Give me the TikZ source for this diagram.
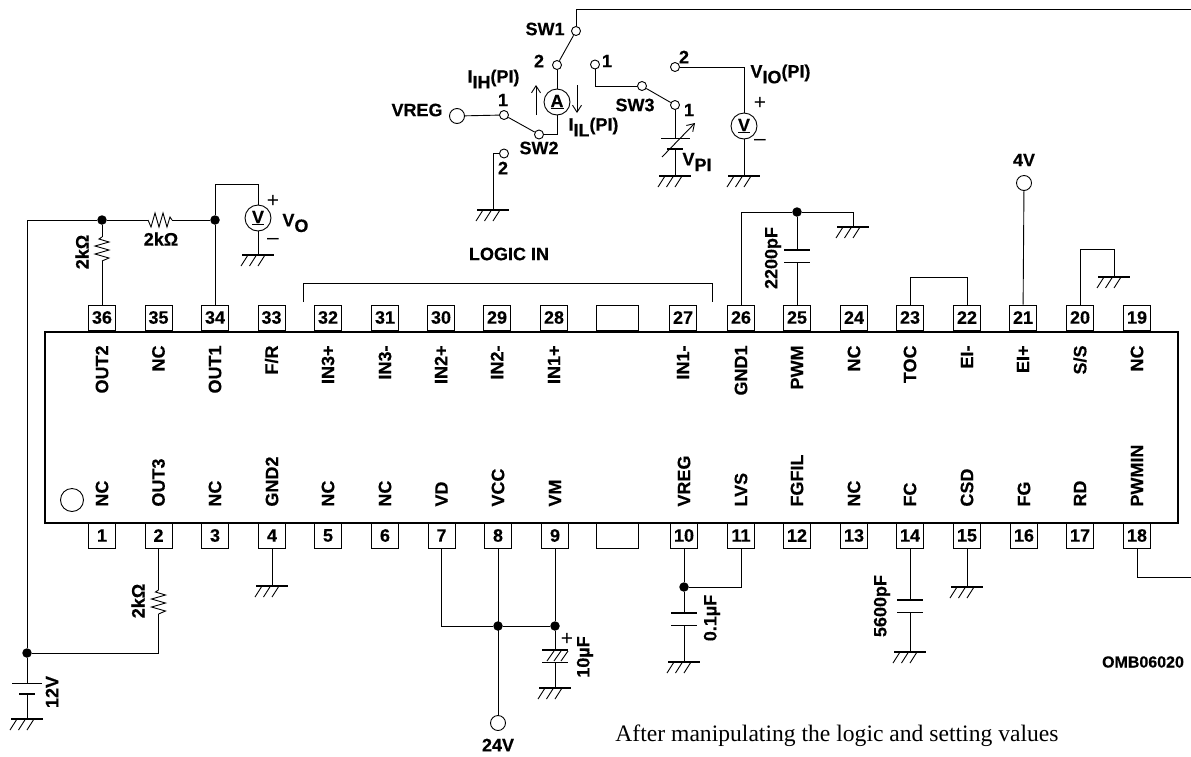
\documentclass[tikz,border=0pt]{standalone}
\usepackage{fontspec}
\setmainfont{Liberation Sans}[BoldFeatures={FakeBold=0.3}]
\newfontfamily\serifnote{Liberation Serif}
\usetikzlibrary{arrows,arrows.meta,positioning,calc}
\newcommand{\lowered}[1]{\raisebox{-0.32em}{#1}}
\tikzset{
  >={Straight Barb[length=7pt,width=9pt]},
  lab/.style={inner sep=0pt,font=\fontsize{18}{20}\selectfont\bfseries},
  smalllab/.style={inner sep=0pt,font=\fontsize{16}{18}\selectfont\bfseries},
  pinbox/.style={draw,minimum width=27,minimum height=25,inner sep=0pt,lab},
  dot/.style={circle,fill=black,minimum size=9.5,inner sep=0pt},
  contact/.style={circle,draw,fill=white,minimum size=9,inner sep=0pt},
  term/.style={circle,draw,fill=white,minimum size=15,inner sep=0pt},
  meter/.style={circle,draw,fill=white,minimum size=26,inner sep=0pt,lab},
  signlab/.style={inner sep=0pt,font=\fontsize{21}{21}\selectfont},
  plate/.style={line width=1.8},
  gnd/.pic={
    \draw [line width=2] (-16,0) -- (16,0);
    \foreach \i in {0,8.5,17} \draw (-17+\i,11) -- (-10+\i,0);
  },
  res/.pic={
    \draw (-12,0) -- (-9,7) -- (-5,-7) -- (-1,7) -- (3,-7) -- (7,7) -- (10,-3) -- (12,0);
  },
  cap/.pic={
    \draw [plate] (-13,0) -- (13,0);
    \draw [plate] (-13,12.5) -- (13,12.5);
  }
}
\begin{document}
\begin{tikzpicture}[x=1pt,y=-1pt,line width=0.9]
\useasboundingbox (0,0) rectangle (1191,756);

% package and pins
\node [draw,line width=2,minimum width=1133,minimum height=191,inner sep=0pt] (chip) at (611.5,427) {};
\foreach \n/\x/\t in {36/102/OUT2,35/158.5/NC,34/215/OUT1,33/271.5/{F/R},32/328/IN3+,31/385/IN3-,30/441/IN2+,29/497/IN2-,28/554/IN1+,27/683/IN1-,26/741/GND1,25/797/PWM,24/854/NC,23/910/TOC,22/967/EI-,21/1023/EI+,20/1080/{S/S},19/1137/NC} {
  \node [pinbox] (pin\n) at (\x,317.5) {\n};
  \node [lab,rotate=90,anchor=east] (name\n) at (\x,345) {\t};
}
\foreach \n/\x/\t in {1/102/NC,2/158.5/OUT3,3/215/NC,4/272/GND2,5/328/NC,6/385/NC,7/441.5/VD,8/498/VCC,9/555/VM,10/684/VREG,11/741/LVS,12/797/FGFIL,13/854/NC,14/910/FC,15/967/CSD,16/1024/FG,17/1080/RD,18/1137/PWMIN} {
  \node [pinbox] (pin\n) at (\x,535.5) {\n};
  \node [lab,rotate=90,anchor=west] (name\n) at (\x,507) {\t};
}
\node [pinbox,minimum width=42] (blanktop) at (617,317.5) {};
\node [pinbox,minimum width=42] (blankbot) at (617.5,535.5) {};
\node [circle,draw,minimum size=23,inner sep=0pt] (index) at (72,500) {};

% grounds
\foreach \nm/\x/\y in {gmeasa/493/210,gpi/675/176,gio/744/176,gvo/258/255,gone/853/227,gss/1114/277,gbat/27/719,gfour/272/586,gnine/555/688,gten/684/662,gfourteen/910/652,gfifteen/967/587} {
  \coordinate (\nm) at (\x,\y);
  \pic at (\nm) {gnd};
}

% switches and meters
\node [contact] (sw1) at (576,31) {};
\node [contact] (sw1b) at (557,65) {};
\node [contact] (sw1a) at (595,64.5) {};
\node [contact] (sw2) at (539,134.5) {};
\node [contact] (sw2a) at (504,115) {};
\node [contact] (sw2b) at (504,153.5) {};
\node [contact] (sw3) at (642,86) {};
\node [contact] (sw3a) at (675,105) {};
\node [contact] (viob) at (675,67) {};
\node [term] (vreg) at (457,116) {};
\node [meter] (amp) at (557,102) {\underline{A}};
\node [meter] (vio) at (744,126) {\underline{V}};
\node [meter] (vo) at (258,218) {\underline{V}};
\coordinate (right1) at (1191,9);
\draw (sw1) -- (576,9) -- (right1);
\draw (sw1) -- (sw1b);
\draw (sw1b) -- (amp);
\draw (amp) |- (sw2);
\draw (sw2) -- (sw2a);
\draw (vreg) -- (sw2a);
\draw (sw2b) -| (gmeasa);
\draw (sw1a) |- (sw3);
\draw (sw3) -- (sw3a);
\draw (viob) -| (vio);
\draw (vio) -- (gio);

% source V_PI
\draw (sw3a) -- (675,138);
\draw (661,138) -- (690,138);
\draw [plate] (667,149) -- (683,149);
\draw (675,149) -- (gpi);
\draw [->] (662,157) -- (695,123);
\draw [->] (536,115) -- (536,85);
\draw [->] (577,85) -- (577,113);

\node [lab,anchor=east] (swlaba) at (565,29) {SW1};
\node [lab] (numa) at (539,61) {2};
\node [lab] (numb) at (503,100) {1};
\node [lab] (numc) at (503,168) {2};
\node [lab] (numd) at (607,61) {1};
\node [lab] (nume) at (684,57) {2};
\node [lab] (numf) at (689,110) {1};
\node [lab] (swlabb) at (539,148) {SW2};
\node [lab] (swlabc) at (635,105) {SW3};
\node [lab,anchor=east] (vreglab) at (443,110) {VREG};
\node [lab,anchor=west] (iih) at (467,79) {I\lowered{IH}(PI)};
\node [lab,anchor=west] (iil) at (568,127) {I\lowered{IL}(PI)};
\node [lab,anchor=west] (vpi) at (682,162) {V\lowered{PI}};
\node [lab,anchor=west] (violab) at (750,74) {V\lowered{IO}(PI)};
\node [signlab] (plusio) at (760,103) {+};
\node [signlab] (minusio) at (760,142) {\textendash};

% output side
\node [dot] (outa) at (102,220) {};
\node [dot] (outb) at (215,220) {};
\coordinate (rail) at (27,220);
\node [dot] (railbot) at (27,653) {};
\draw (railbot) -- (rail) -- (outa);
\draw (outa) -- (148,220);
\pic at (160,220) {res};
\draw (172,220) -- (outb);
\draw (outa) -- (102,237);
\pic [rotate=90] at (102,249) {res};
\draw (102,261) -- (pin36);
\draw (pin34) -- (outb);
\draw (outb) -- (215,184) -| (vo);
\draw (vo) -- (gvo);
\node [lab] (rlaba) at (161,239) {2kΩ};
\node [lab,rotate=90] (rlabb) at (82,252) {2kΩ};
\node [lab,anchor=west] (volab) at (282,223) {V\lowered{O}};
\node [signlab] (plusvo) at (273,201) {+};
\node [signlab] (minusvo) at (273,241) {\textendash};

% logic bracket
\coordinate (brl) at (303,302);
\coordinate (brr) at (712,302);
\draw (brl) -- (303,283) -- (712,283) -- (brr);
\node [lab] (logic) at (509,254) {LOGIC IN};

% top right pins
\node [dot] (pwmdot) at (797,212) {};
\draw (pin26) |- (pwmdot);
\draw (pwmdot) -| (gone);
\draw (pwmdot) -- (797,250);
\pic at (797,250) {cap};
\draw (797,262.5) -- (pin25);
\node [lab,rotate=90] (clab) at (773,258) {2200pF};
\draw (pin23) |- (967,277) -- (pin22);
\node [term] (fourv) at (1024,183) {};
\draw (pin21) -- (fourv);
\node [lab] (fourlab) at (1024,160) {4V};
\draw (pin20) |- (1114,249) -- (gss);

% bottom left
\pic [rotate=90] at (158.5,602) {res};
\draw (pin2) -- (158.5,590);
\draw (158.5,614) |- (railbot);
\node [lab,rotate=90] (rlabc) at (138,601) {2kΩ};
\draw (railbot) -- (27,683);
\draw (12,683) -- (42,683);
\draw [plate] (19,694) -- (35,694);
\draw (27,694) -- (gbat);
\node [lab,rotate=90] (batlab) at (52,692) {12V};
\draw (pin4) -- (gfour);

% supply pins
\node [dot] (supa) at (498,626) {};
\node [dot] (supb) at (555,626) {};
\node [term] (vs) at (498,723) {};
\draw (pin7) |- (supa);
\draw (supa) -- (supb);
\draw (pin8) -- (vs);
\draw (pin9) -- (supb);
\draw (supb) -- (555,650);
\pic at (555,650) {cap};
\foreach \i in {0,7,14} \draw (547+\i,661) -- (554+\i,651);
\draw (555,662.5) -- (gnine);
\node [signlab] (pluscap) at (567,639) {+};
\node [lab,rotate=90] (clabb) at (585,657) {10µF};
\node [lab] (vslab) at (498,745) {24V};

% pins 10 to 18
\node [dot] (regdot) at (684,587) {};
\draw (pin10) -- (regdot);
\draw (pin11) |- (regdot);
\draw (regdot) -- (684,613);
\pic at (684,613) {cap};
\draw (684,625.5) -- (gten);
\node [lab,rotate=90] (clabc) at (712,618) {0.1µF};
\draw (pin14) -- (910,600);
\pic at (910,600) {cap};
\draw (910,612.5) -- (gfourteen);
\node [lab,rotate=90] (clabd) at (882,606) {5600pF};
\draw (pin15) -- (gfifteen);
\coordinate (right18) at (1191,577);
\draw (pin18) |- (right18);
\node [smalllab] (code) at (1143,662) {OMB06020};
\node [anchor=base west,inner sep=0pt,font=\serifnote\fontsize{23.6}{28}\selectfont] (note) at (615,741) {After manipulating the logic and setting values};
\end{tikzpicture}
\end{document}
